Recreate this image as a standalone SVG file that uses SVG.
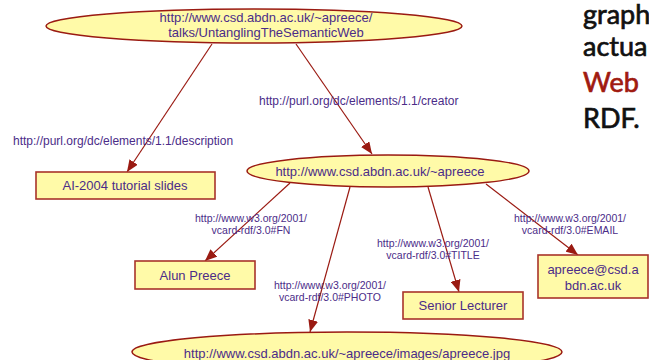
<svg xmlns="http://www.w3.org/2000/svg" width="649" height="360" viewBox="0 0 649 360">
<style>
.node{fill:#FFFAA8;stroke:#9A1A12;stroke-width:1.5}
.box{fill:#FFFAA8;stroke:#A8342A;stroke-width:1.6}
.nt{font-family:"Liberation Sans",Arial,sans-serif;font-size:13px;fill:#4B2C88;text-anchor:middle}
.el{font-family:"Liberation Sans",Arial,sans-serif;font-size:10.5px;fill:#4B2C88}
.big{font-size:12px}
.elm{text-anchor:middle}
.edge{stroke:#9A1A12;stroke-width:1.2;fill:none;marker-end:url(#arr)}
.slide{font-family:Lato,"Open Sans",sans-serif;font-size:27px;font-weight:normal;fill:#111;stroke:#111;stroke-width:0.7}
.red{fill:#A01A10;stroke:#A01A10}
</style>
<defs>
<marker id="arr" viewBox="0 0 12 10" refX="12" refY="5" markerWidth="12" markerHeight="10" markerUnits="userSpaceOnUse" orient="auto">
<path d="M0,0 L12,5 L0,10 Z" fill="#9A1A12"/>
</marker>
</defs>
<g id="connectors">
<line class="edge" x1="212" y1="44" x2="127" y2="172"/>
<line class="edge" x1="296" y1="44" x2="372" y2="154"/>
<line class="edge" x1="290" y1="183" x2="205" y2="261"/>
<line class="edge" x1="350" y1="187" x2="310" y2="332"/>
<line class="edge" x1="428" y1="187" x2="459" y2="292"/>
<line class="edge" x1="486" y1="184" x2="578" y2="255"/>
<text class="el big" x="13" y="145">http://purl.org/dc/elements/1.1/description</text>
<text class="el big" x="259" y="105">http://purl.org/dc/elements/1.1/creator</text>
<text class="el elm" x="251" y="222">http://www.w3.org/2001/</text>
<text class="el elm" x="251" y="234">vcard-rdf/3.0#FN</text>
<text class="el elm" x="330" y="289">http://www.w3.org/2001/</text>
<text class="el elm" x="330" y="301">vcard-rdf/3.0#PHOTO</text>
<text class="el elm" x="433" y="247">http://www.w3.org/2001/</text>
<text class="el elm" x="433" y="259">vcard-rdf/3.0#TITLE</text>
<text class="el elm" x="570" y="222">http://www.w3.org/2001/</text>
<text class="el elm" x="570" y="234">vcard-rdf/3.0#EMAIL</text>
</g>
<g id="talk">
<ellipse class="node" cx="254" cy="26" rx="208" ry="17"/>
<text class="nt" x="266" y="22">http://www.csd.abdn.ac.uk/~apreece/</text>
<text class="nt" x="266" y="37">talks/UntanglingTheSemanticWeb</text>
</g>
<g id="slides">
<rect class="box" x="36" y="172" width="179" height="27"/>
<text class="nt" x="125" y="190">AI-2004 tutorial slides</text>
</g>
<g id="apreece">
<ellipse class="node" cx="388" cy="171" rx="141" ry="16"/>
<text class="nt" x="380" y="176">http://www.csd.abdn.ac.uk/~apreece</text>
</g>
<g id="name">
<rect class="box" x="135" y="261" width="120" height="28"/>
<text class="nt" x="195" y="280">Alun Preece</text>
</g>
<g id="title">
<rect class="box" x="403" y="292" width="120" height="27"/>
<text class="nt" x="463" y="310">Senior Lecturer</text>
</g>
<g id="email">
<rect class="box" x="538" y="255" width="110" height="43"/>
<text class="nt" x="593" y="274">apreece@csd.a</text>
<text class="nt" x="593" y="290">bdn.ac.uk</text>
</g>
<g id="photo">
<ellipse class="node" cx="347" cy="352" rx="215" ry="20"/>
<text class="nt" x="347" y="358">http://www.csd.abdn.ac.uk/~apreece/images/apreece.jpg</text>
</g>
<g id="slide-text">
<text class="slide" x="583" y="24">graph</text>
<text class="slide" x="583" y="56">actua</text>
<text class="slide red" x="583" y="92">Web</text>
<text class="slide" x="583" y="128">RDF.</text>
</g>
</svg>
